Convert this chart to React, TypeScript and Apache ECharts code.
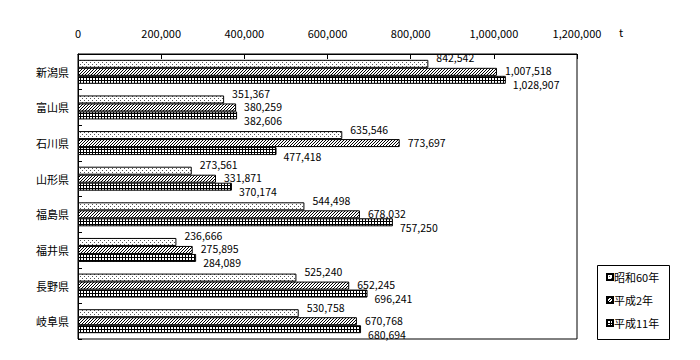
import React, { useEffect, useRef } from "react";
import * as echarts from "echarts";

const categories = ["新潟県", "富山県", "石川県", "山形県", "福島県", "福井県", "長野県", "岐阜県"];
const seriesNames = ["昭和60年", "平成2年", "平成11年"];
const s60 = [842542, 351367, 635546, 273561, 544498, 236666, 525240, 530758];
const h2 = [1007518, 380259, 773697, 331871, 678032, 275895, 652245, 670768];
const h11 = [1028907, 382606, 477418, 370174, 757250, 284089, 696241, 680694];
const xTicks = { min: 0, max: 1200000, interval: 200000 };
const unitLabel = "t";

function makePattern(kind: string): HTMLCanvasElement {
  const c = document.createElement("canvas");
  const size = kind === "dots" ? 4 : 3;
  c.width = size;
  c.height = size;
  const ctx = c.getContext("2d")!;
  ctx.fillStyle = "#fff";
  ctx.fillRect(0, 0, size, size);
  ctx.fillStyle = kind === "dots" ? "#555" : "#000";
  if (kind === "dots") {
    ctx.fillRect(0, 0, 1, 1);
    ctx.fillRect(2, 2, 1, 1);
  } else if (kind === "hatch") {
    ctx.fillRect(2, 0, 1, 1);
    ctx.fillRect(1, 1, 1, 1);
    ctx.fillRect(0, 2, 1, 1);
  } else {
    ctx.fillRect(0, 0, size, 1);
    ctx.fillRect(0, 0, 1, size);
  }
  return c;
}

const fmt = (v: number) => v.toLocaleString("en-US");

export default function App() {
  const ref = useRef<HTMLDivElement>(null);
  useEffect(() => {
    if (!ref.current) return;
    const chart = echarts.init(ref.current, null, { renderer: "svg" });
    const font = "'Noto Sans CJK JP', sans-serif";
    const kinds = ["dots", "hatch", "grid"];
    const datas = [s60, h2, h11];
    const offsets = [[1, -6], [1, -1], [0, 5]];
    chart.setOption({
      animation: false,
      backgroundColor: "#fff",
      textStyle: { fontFamily: font, color: "#000" },
      grid: {
        left: 70,
        top: 46,
        width: 499,
        height: 285,
        show: true,
        borderColor: "#000",
        borderWidth: 1,
        containLabel: false,
      },
      legend: {
        orient: "vertical",
        left: 587,
        top: 255,
        padding: [7, 0, 7, 11],
        borderWidth: 0,
        itemWidth: 6,
        itemHeight: 6,
        itemGap: 9,
        icon: "rect",
        data: seriesNames,
        textStyle: {
          fontFamily: font,
          fontSize: 11,
          lineHeight: 14,
          color: "#000",
          padding: [0, 0, 0, -4],
        },
      },
      xAxis: {
        type: "value",
        position: "top",
        min: xTicks.min,
        max: xTicks.max,
        interval: xTicks.interval,
        axisLine: { show: true, lineStyle: { color: "#000" } },
        axisTick: { show: true, inside: true, length: 5, lineStyle: { color: "#000" } },
        splitLine: { show: false },
        axisLabel: {
          margin: 16,
          fontSize: 11,
          fontFamily: font,
          color: "#000",
          formatter: (v: number) => fmt(v),
        },
      },
      yAxis: {
        type: "category",
        inverse: true,
        data: categories,
        axisLine: { show: true, lineStyle: { color: "#000" } },
        axisTick: { show: true, inside: true, length: 4, lineStyle: { color: "#000" } },
        axisLabel: { margin: 9, fontSize: 11, fontFamily: font, color: "#000" },
      },
      graphic: [
        {
          type: "text",
          left: 611,
          top: 18,
          style: { text: unitLabel, fontSize: 11, fontFamily: font, fill: "#000" },
        },
        {
          type: "rect",
          left: 587,
          top: 255,
          shape: { width: 72, height: 74 },
          style: { fill: "none", stroke: "#000", lineWidth: 1 },
          silent: true,
        },
      ],
      series: seriesNames.map((name, i) => ({
        name,
        type: "bar",
        data: datas[i],
        barWidth: 8,
        barGap: "0%",
        itemStyle: {
          color: { image: makePattern(kinds[i]), repeat: "repeat" },
          borderColor: "#000",
          borderWidth: 1,
        },
        label: {
          show: true,
          position: "right",
          distance: 7,
          offset: offsets[i],
          fontSize: 10.5,
          lineHeight: 11,
          fontFamily: font,
          color: "#000",
          formatter: (p: any) => fmt(p.value),
        },
      })),
    });
    return () => chart.dispose();
  }, []);
  return <div ref={ref} style={{ width: 684, height: 352 }} />;
}
